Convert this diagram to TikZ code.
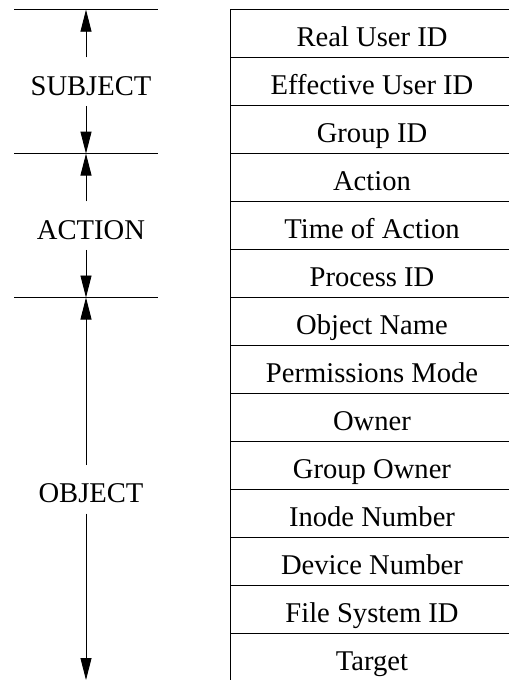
\documentclass[tikz,border=0pt]{standalone}
\usepackage{fontspec}
\setmainfont{Liberation Serif}
\usetikzlibrary{arrows.meta}
\begin{document}
\begin{tikzpicture}[x=1pt,y=-1pt,
  rule/.style={line width=0.9pt},
  field/.style={anchor=base, inner sep=0pt, font=\fontsize{28.6}{34}\selectfont},
  group/.style={inner sep=0pt, minimum height=48pt, text height=27pt, text depth=0pt,
                font=\fontsize{28.6}{34}\selectfont},
  dim/.style={line width=0.9pt, -{Triangle[length=22pt,width=11pt]}}]
\useasboundingbox (0,0) rectangle (509,680);
\def\yo{9.7}
\def\rh{47.97}

% record fields
\draw[rule] (230,\yo) -- (230,680);
\foreach \k in {0,...,13}
  \draw[rule] (230,\yo+\k*\rh) -- (509,\yo+\k*\rh);
\foreach \t [count=\i from 0] in {Real User ID, Effective User ID, Group ID, Action,
    Time of Action, Process ID, Object Name, Permissions Mode, Owner, Group Owner,
    Inode Number, Device Number, File System ID, Target}
  \node[field] (f\i) at (372,\yo+\i*\rh+0.5*\rh+13.3) {\t};

% group boundaries
\foreach \k in {0,3,6}
  \draw[rule] (14,\yo+\k*\rh) -- (158,\yo+\k*\rh);

\coordinate (st) at (86,\yo);
\coordinate (sb) at (86,\yo+3*\rh);
\coordinate (ab) at (86,\yo+6*\rh);
\coordinate (ob) at (86,680);

\node[group] (subj) at (91,\yo+1.5*\rh) {SUBJECT};
\node[group] (act)  at (91,\yo+4.5*\rh) {ACTION};
\node[group] (obj)  at (91,\yo+10*\rh) {OBJECT};

\draw[dim] (subj.north -| st) -- (st);
\draw[dim] (subj.south -| st) -- (sb);
\draw[dim] (act.north -| st) -- (sb);
\draw[dim] (act.south -| st) -- (ab);
\draw[dim] (obj.north -| st) -- (ab);
\draw[dim] (obj.south -| st) -- (ob);
\end{tikzpicture}
\end{document}
